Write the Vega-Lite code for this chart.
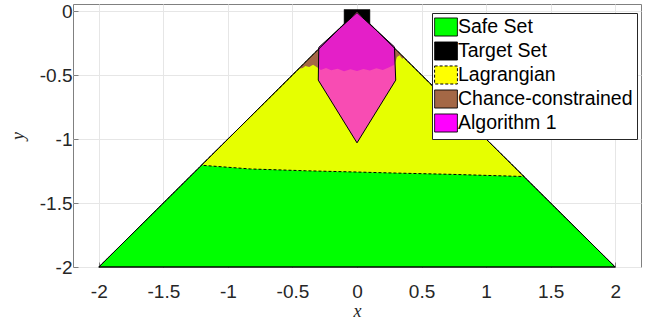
{
  "$schema": "https://vega.github.io/schema/vega-lite/v6.json",
  "width": 568,
  "height": 263,
  "autosize": {"type": "none"},
  "padding": {"left": 73, "top": 4, "right": 11, "bottom": 56},
  "background": "white",
  "config": {
    "view": {"stroke": "#808080", "strokeWidth": 1},
    "axis": {
      "labelFont": "Liberation Sans",
      "labelFontSize": 19,
      "labelColor": "#262626",
      "titleFont": "Liberation Serif",
      "titleFontStyle": "italic",
      "titleFontWeight": "normal",
      "titleFontSize": 18,
      "titleColor": "#262626",
      "gridColor": "#e6e6e6",
      "gridOpacity": 1,
      "domain": false,
      "ticks": true,
      "tickSize": -5,
      "tickColor": "#808080"
    }
  },
  "datasets": {
    "d": [
      {"set": "Safe Set", "ord": 0, "x": -2, "y": -2},
      {"set": "Safe Set", "ord": 1, "x": 2, "y": -2},
      {"set": "Safe Set", "ord": 2, "x": 0, "y": 0},
      {"set": "Safe Set", "ord": 3, "x": -2, "y": -2},

      {"set": "Target Set", "ord": 0, "x": -0.1, "y": -0.1},
      {"set": "Target Set", "ord": 1, "x": 0.1, "y": -0.1},
      {"set": "Target Set", "ord": 2, "x": 0.1, "y": 0.012},
      {"set": "Target Set", "ord": 3, "x": -0.1, "y": 0.012},
      {"set": "Target Set", "ord": 4, "x": -0.1, "y": -0.1},

      {"set": "Lagrangian", "ord": 0, "x": -1.205, "y": -1.205},
      {"set": "Lagrangian", "ord": 1, "x": -0.3, "y": -0.3},
      {"set": "Lagrangian", "ord": 2, "x": 0.3, "y": -0.3},
      {"set": "Lagrangian", "ord": 3, "x": 1.293, "y": -1.293},
      {"set": "Lagrangian", "ord": 4, "x": 0.73, "y": -1.276},
      {"set": "Lagrangian", "ord": 5, "x": 0.3, "y": -1.266},
      {"set": "Lagrangian", "ord": 6, "x": 0, "y": -1.258},
      {"set": "Lagrangian", "ord": 7, "x": -0.4, "y": -1.248},
      {"set": "Lagrangian", "ord": 8, "x": -0.825, "y": -1.234},
      {"set": "Lagrangian", "ord": 9, "x": -1.205, "y": -1.205},

      {"set": "Chance-constrained", "ord": 0, "x": 0, "y": 0},
      {"set": "Chance-constrained", "ord": 1, "x": -0.45, "y": -0.45},
      {"set": "Chance-constrained", "ord": 2, "x": -0.42, "y": -0.445},
      {"set": "Chance-constrained", "ord": 3, "x": -0.4, "y": -0.43},
      {"set": "Chance-constrained", "ord": 4, "x": -0.37, "y": -0.438},
      {"set": "Chance-constrained", "ord": 5, "x": -0.34, "y": -0.42},
      {"set": "Chance-constrained", "ord": 6, "x": -0.31, "y": -0.44},
      {"set": "Chance-constrained", "ord": 7, "x": -0.28, "y": -0.46},
      {"set": "Chance-constrained", "ord": 8, "x": -0.24, "y": -0.445},
      {"set": "Chance-constrained", "ord": 9, "x": -0.2, "y": -0.462},
      {"set": "Chance-constrained", "ord": 10, "x": -0.15, "y": -0.45},
      {"set": "Chance-constrained", "ord": 11, "x": -0.1, "y": -0.47},
      {"set": "Chance-constrained", "ord": 12, "x": -0.05, "y": -0.455},
      {"set": "Chance-constrained", "ord": 13, "x": 0, "y": -0.468},
      {"set": "Chance-constrained", "ord": 14, "x": 0.05, "y": -0.452},
      {"set": "Chance-constrained", "ord": 15, "x": 0.1, "y": -0.465},
      {"set": "Chance-constrained", "ord": 16, "x": 0.15, "y": -0.448},
      {"set": "Chance-constrained", "ord": 17, "x": 0.2, "y": -0.46},
      {"set": "Chance-constrained", "ord": 18, "x": 0.25, "y": -0.44},
      {"set": "Chance-constrained", "ord": 19, "x": 0.29, "y": -0.42},
      {"set": "Chance-constrained", "ord": 20, "x": 0.31, "y": -0.36},
      {"set": "Chance-constrained", "ord": 21, "x": 0.33, "y": -0.345},
      {"set": "Chance-constrained", "ord": 22, "x": 0.35, "y": -0.372},
      {"set": "Chance-constrained", "ord": 23, "x": 0.37, "y": -0.362},
      {"set": "Chance-constrained", "ord": 24, "x": 0.39, "y": -0.4},
      {"set": "Chance-constrained", "ord": 25, "x": 0.41, "y": -0.41},
      {"set": "Chance-constrained", "ord": 26, "x": 0, "y": 0},

      {"set": "Algorithm 1", "ord": 0, "x": 0, "y": -0.012},
      {"set": "Algorithm 1", "ord": 1, "x": -0.296, "y": -0.284},
      {"set": "Algorithm 1", "ord": 2, "x": -0.3, "y": -0.54},
      {"set": "Algorithm 1", "ord": 3, "x": 0, "y": -1.03},
      {"set": "Algorithm 1", "ord": 4, "x": 0.3, "y": -0.54},
      {"set": "Algorithm 1", "ord": 5, "x": 0.29, "y": -0.28},
      {"set": "Algorithm 1", "ord": 6, "x": 0, "y": -0.012}
    ],
    "xt": [{"v": -2}, {"v": -1.5}, {"v": -1}, {"v": -0.5}, {"v": 0}, {"v": 0.5}, {"v": 1}, {"v": 1.5}, {"v": 2}],
    "yt": [{"v": -2}, {"v": -1.5}, {"v": -1}, {"v": -0.5}, {"v": 0}]
  },
  "encoding": {
    "x": {
      "field": "x", "type": "quantitative",
      "scale": {"domain": [-2.2, 2.2], "nice": false, "zero": false},
      "axis": {"values": [-2, -1.5, -1, -0.5, 0, 0.5, 1, 1.5, 2], "labelExpr": "toString(datum.value)", "title": "x", "labelPadding": 20, "titlePadding": 1}
    },
    "y": {
      "field": "y", "type": "quantitative",
      "scale": {"domain": [-2, 0.055], "nice": false, "zero": false},
      "axis": {"values": [-2, -1.5, -1, -0.5, 0], "labelExpr": "toString(datum.value)", "title": "y", "labelPadding": 6, "titlePadding": 12}
    }
  },
  "layer": [
    {
      "data": {"name": "d"},
      "transform": [{"filter": "datum.set === 'Safe Set'"}],
      "mark": {"type": "line", "stroke": "black", "strokeWidth": 1, "strokeJoin": "miter"},
      "encoding": {
        "order": {"field": "ord", "type": "quantitative"},
        "fill": {"field": "set", "type": "nominal", "scale": {"domain": ["Safe Set", "Target Set", "Lagrangian", "Chance-constrained", "Algorithm 1"], "range": ["#00ff00", "#000000", "#ffff00", "#a46846", "#ff00ff"]},
          "legend": {"orient": "none", "legendX": 359, "legendY": 9, "title": null, "fillColor": "white", "strokeColor": "#262626", "padding": 4, "labelFont": "Liberation Sans", "labelFontSize": 19.5, "labelLimit": 400, "labelColor": "black", "labelOffset": 2, "rowPadding": 0, "symbolType": "M-1.2,-0.95L1.2,-0.95L1.2,0.95L-1.2,0.95Z", "symbolSize": 361, "symbolOpacity": 1, "symbolFillOpacity": 1, "symbolStrokeColor": "black", "symbolStrokeWidth": 1}},
        "strokeDash": {"field": "set", "type": "nominal", "scale": {"domain": ["Safe Set", "Target Set", "Lagrangian", "Chance-constrained", "Algorithm 1"], "range": [[1, 0], [1, 0], [3, 2], [1, 0], [1, 0]]}, "legend": null},
        "detail": {"field": "set"}
      }
    },
    {
      "data": {"name": "d"},
      "transform": [{"filter": "datum.set === 'Target Set'"}],
      "mark": {"type": "line", "stroke": "black", "strokeWidth": 0.5},
      "encoding": {
        "order": {"field": "ord", "type": "quantitative"},
        "fill": {"field": "set", "type": "nominal"},
        "detail": {"field": "set"}
      }
    },
    {
      "data": {"name": "d"},
      "transform": [{"filter": "datum.set === 'Lagrangian'"}],
      "mark": {"type": "line", "stroke": "black", "strokeWidth": 1, "strokeDash": [3, 2], "fillOpacity": 0.9},
      "encoding": {
        "order": {"field": "ord", "type": "quantitative"},
        "fill": {"field": "set", "type": "nominal"},
        "detail": {"field": "set"}
      }
    },
    {
      "data": {"name": "d"},
      "transform": [{"filter": "datum.set === 'Chance-constrained'"}],
      "mark": {"type": "line", "strokeWidth": 0, "stroke": null},
      "encoding": {
        "order": {"field": "ord", "type": "quantitative"},
        "fill": {"field": "set", "type": "nominal"},
        "detail": {"field": "set"}
      }
    },
    {
      "data": {"name": "d"},
      "transform": [{"filter": "datum.set === 'Algorithm 1'"}],
      "mark": {"type": "line", "stroke": "black", "strokeWidth": 1, "fillOpacity": 0.7},
      "encoding": {
        "order": {"field": "ord", "type": "quantitative"},
        "fill": {"field": "set", "type": "nominal"},
        "detail": {"field": "set"}
      }
    },
    {
      "data": {"name": "d"},
      "transform": [{"filter": "datum.set === 'Safe Set'"}],
      "mark": {"type": "line", "stroke": "black", "strokeWidth": 1, "fill": null},
      "encoding": {
        "order": {"field": "ord", "type": "quantitative"},
        "detail": {"field": "set"}
      }
    },
    {
      "data": {"name": "xt"},
      "mark": {"type": "tick", "orient": "vertical", "size": 10, "thickness": 1, "color": "#808080", "opacity": 1, "clip": true},
      "encoding": {
        "x": {"field": "v", "type": "quantitative"},
        "y": {"datum": 0.055}
      }
    },
    {
      "data": {"name": "yt"},
      "mark": {"type": "tick", "orient": "horizontal", "size": 10, "thickness": 1, "color": "#808080", "opacity": 1, "clip": true},
      "encoding": {
        "y": {"field": "v", "type": "quantitative"},
        "x": {"datum": 2.2}
      }
    }
  ]
}
